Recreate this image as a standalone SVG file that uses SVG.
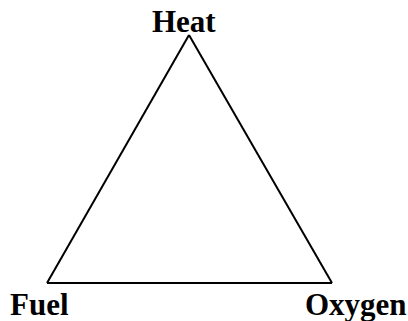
<svg xmlns="http://www.w3.org/2000/svg" width="408" height="321" viewBox="0 0 408 321">
<style>
.lbl{font-family:"Liberation Serif","Times New Roman",serif;font-weight:bold;font-size:31px;fill:#000}
.edge{stroke:#000;stroke-width:2;fill:none;stroke-linejoin:miter}
</style>
<rect width="408" height="321" fill="#fff"/>
<g id="connectors">
<path class="edge" d="M189,35 L47,283"/>
<path class="edge" d="M189,35 L332,283"/>
<path class="edge" d="M47,283 L332,283"/>
</g>
<g id="heat"><text class="lbl" x="152" y="32">Heat</text></g>
<g id="fuel"><text class="lbl" x="10" y="315">Fuel</text></g>
<g id="oxygen"><text class="lbl" x="305" y="315">Oxygen</text></g>
</svg>
